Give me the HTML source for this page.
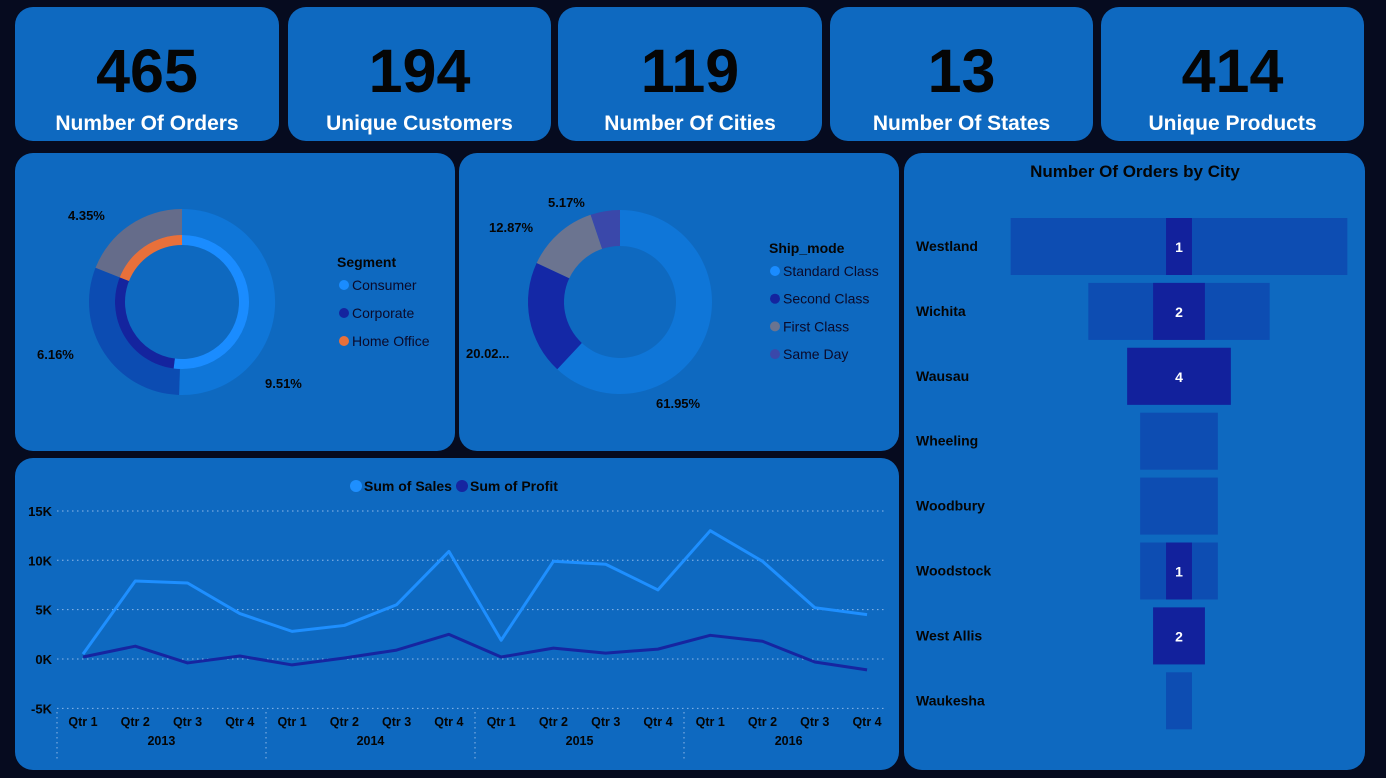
<!DOCTYPE html>
<html><head><meta charset="utf-8"><style>
body{margin:0;width:1386px;height:778px;background:#060b1f;overflow:hidden;font-family:"Liberation Sans",sans-serif;position:relative}
.p{position:absolute;background:#0e69c0;border-radius:18px}
.kn{position:absolute;left:0;right:0;top:34px;text-align:center;font-family:"Liberation Sans Narrow","Liberation Sans",sans-serif;font-weight:bold;font-size:61px;line-height:61px;color:#050505}
.kl{position:absolute;left:0;right:0;top:105px;text-align:center;font-weight:bold;font-size:21px;color:#fff}
svg{position:absolute;left:0;top:0}
</style></head><body>
<div class="p" style="left:15px;top:7px;width:264px;height:134px"><div class="kn">465</div><div class="kl">Number Of Orders</div></div>
<div class="p" style="left:288px;top:7px;width:263px;height:134px"><div class="kn">194</div><div class="kl">Unique Customers</div></div>
<div class="p" style="left:558px;top:7px;width:264px;height:134px"><div class="kn">119</div><div class="kl">Number Of Cities</div></div>
<div class="p" style="left:830px;top:7px;width:263px;height:134px"><div class="kn">13</div><div class="kl">Number Of States</div></div>
<div class="p" style="left:1101px;top:7px;width:263px;height:134px"><div class="kn">414</div><div class="kl">Unique Products</div></div>
<div class="p" style="left:15px;top:153px;width:440px;height:298px"></div>
<div class="p" style="left:459px;top:153px;width:440px;height:298px"></div>
<div class="p" style="left:15px;top:458px;width:884px;height:312px"></div>
<div class="p" style="left:904px;top:153px;width:461px;height:617px"></div>
<svg id="s" width="1386" height="778" font-family="Liberation Sans, sans-serif"></svg>
<script>
// Segment donut
const segNames=["Consumer","Corporate","Home Office"];
const segOuter=[50.5,30.5,19.0];
const segInner=[52,29,19];
const segLabels=["9.51%","6.16%","4.35%"];
// Ship mode donut
const shipNames=["Standard Class","Second Class","First Class","Same Day"];
const shipVals=[61.95,20.02,12.87,5.17];
const shipLabels=["61.95%","20.02...","12.87%","5.17%"];
// Line chart
const quarters=["Qtr 1","Qtr 2","Qtr 3","Qtr 4","Qtr 1","Qtr 2","Qtr 3","Qtr 4","Qtr 1","Qtr 2","Qtr 3","Qtr 4","Qtr 1","Qtr 2","Qtr 3","Qtr 4"];
const years=["2013","2014","2015","2016"];
const sales=[0.5,7.9,7.7,4.6,2.8,3.4,5.5,10.9,1.9,9.9,9.6,7.0,13.0,9.9,5.2,4.5];
const profit=[0.2,1.3,-0.4,0.3,-0.6,0.1,0.9,2.5,0.2,1.1,0.6,1.0,2.4,1.8,-0.3,-1.1];
const yTicks=[-5,0,5,10,15];
// Funnel
const cities=["Westland","Wichita","Wausau","Wheeling","Woodbury","Woodstock","West Allis","Waukesha"];
const cityTotal=[13,7,4,3,3,3,2,1];
const cityOrders=[1,2,4,0,0,1,2,0];

const S=document.getElementById('s');const NS="http://www.w3.org/2000/svg";
function el(t,a,txt){const e=document.createElementNS(NS,t);for(const k in a)e.setAttribute(k,a[k]);if(txt!=null)e.textContent=txt;S.appendChild(e);return e;}
function arc(cx,cy,r1,r0,a0,a1){
 const p=(r,a)=>(cx+r*Math.sin(a*Math.PI/180)).toFixed(2)+","+(cy-r*Math.cos(a*Math.PI/180)).toFixed(2);
 const lg=(a1-a0)>180?1:0;return "M"+p(r1,a0)+" A"+r1+","+r1+" 0 "+lg+" 1 "+p(r1,a1)+" L"+p(r0,a1)+" A"+r0+","+r0+" 0 "+lg+" 0 "+p(r0,a0)+"Z";}
function ring(cx,cy,r1,r0,vals,cols,name){const tot=vals.reduce((a,b)=>a+b,0);let a=0;vals.forEach((v,i)=>{const b=a+v/tot*360;
 const e=el('path',{d:arc(cx,cy,r1,r0,a,b),fill:cols[i]});
 
 a=b;});}
// segment
ring(182,302,93,67,segOuter,["#0f76d8","#0c4cb2","#656c8a"],'segment-outer');
ring(182,302,67,57,segInner,["#1a8cff","#14249e","#e8703a"],'segment-inner');
[[265,388,"start"],[37,359,"start"],[68,220,"start"]].forEach((p,i)=>{const t=el('text',{x:p[0],y:p[1],'font-size':13,'font-weight':'bold',fill:'#050505'},segLabels[i]);
});
el('text',{x:337,y:267,'font-size':14,'font-weight':'bold',fill:'#050505'},"Segment");
["#1a8cff","#14249e","#e8703a"].forEach((c,i)=>{el('circle',{cx:344,cy:285+i*28,r:5,fill:c});
const t=el('text',{x:352,y:290+i*28,'font-size':14,fill:'#0a0a2a'},segNames[i]);
});
// ship
ring(620,302,92,56,shipVals,["#0f76d8","#1428a6","#6b7490","#3a48aa"],'shipmode');
[[656,408],[466,358],[489,232],[548,207]].forEach((p,i)=>{const t=el('text',{x:p[0],y:p[1],'font-size':13,'font-weight':'bold',fill:'#050505'},shipLabels[i]);
});
el('text',{x:769,y:253,'font-size':14,'font-weight':'bold',fill:'#050505'},"Ship_mode");
["#1a8cff","#14249e","#6b7490","#3a48aa"].forEach((c,i)=>{el('circle',{cx:775,cy:271+i*27.7,r:5,fill:c});
const t=el('text',{x:783,y:276+i*27.7,'font-size':14,fill:'#0a0a2a'},shipNames[i]);
});
// line chart
const X=i=>83+i*52.27, Y=v=>659-v*9.87;
yTicks.forEach(v=>{el('line',{x1:57,x2:884,y1:Y(v),y2:Y(v),stroke:'#8fb8e8','stroke-width':1,'stroke-dasharray':'1.5 3.5'});
el('text',{x:52,y:Y(v)+5,'text-anchor':'end','font-size':13,'font-weight':'bold',fill:'#050505'},v===0?"0K":v+"K");});
quarters.forEach((q,i)=>el('text',{x:X(i),y:726,'text-anchor':'middle','font-size':12.5,'font-weight':'bold',fill:'#050505'},q));
years.forEach((y,i)=>{el('text',{x:X(i*4+1.5),y:745,'text-anchor':'middle','font-size':12.5,'font-weight':'bold',fill:'#050505'},y);
el('line',{x1:57+i*209,x2:57+i*209,y1:712,y2:760,stroke:'#8fb8e8','stroke-dasharray':'1.5 3.5'});});
const ls=el('polyline',{points:sales.map((v,i)=>X(i)+","+Y(v)).join(" "),fill:'none',stroke:'#1e8fff','stroke-width':3,'stroke-linejoin':'round'});

const lp=el('polyline',{points:profit.map((v,i)=>X(i)+","+Y(v)).join(" "),fill:'none',stroke:'#1625a0','stroke-width':3,'stroke-linejoin':'round'});

el('circle',{cx:356,cy:486,r:6,fill:'#1e8fff'});
el('text',{x:364,y:491,'font-size':14,'font-weight':'bold',fill:'#050505'},"Sum of Sales");
el('circle',{cx:462,cy:486,r:6,fill:'#1625a0'});
el('text',{x:470,y:491,'font-size':14,'font-weight':'bold',fill:'#050505'},"Sum of Profit");
// funnel
el('text',{x:1135,y:177,'text-anchor':'middle','font-size':17,'font-weight':'bold',fill:'#050505'},"Number Of Orders  by City");
const U=25.9, CX=1179;
cities.forEach((c,i)=>{const y=218+i*64.9;
 const ct=el('text',{x:916,y:y+33,'font-size':14,'font-weight':'bold',fill:'#050505'},c);
 
 const w=cityTotal[i]*U;const r=el('rect',{x:CX-w/2,y:y,width:w,height:57,fill:'#0d4db2'});
 
 if(cityOrders[i]>0){const w2=cityOrders[i]*U;const r2=el('rect',{x:CX-w2/2,y:y,width:w2,height:57,fill:'#12219c'});
 
 el('text',{x:CX,y:y+34,'text-anchor':'middle','font-size':14,'font-weight':'bold',fill:'#fff'},cityOrders[i]);}
});
</script>
</body></html>
